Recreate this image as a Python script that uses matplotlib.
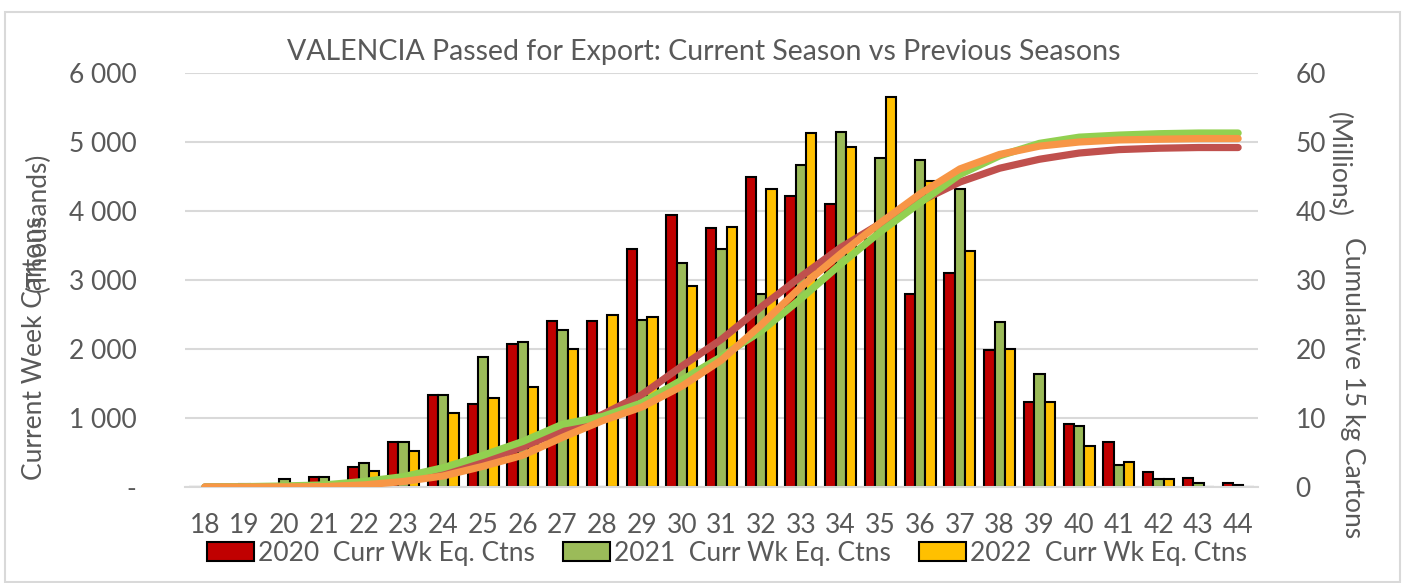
#Purpose: VALENCIA passed for export - weekly bars and cumulative lines

import numpy as np
from matplotlib import pyplot as plt
from matplotlib.patches import Rectangle

plt.rcParams['font.family'] = ['Lato', 'DejaVu Sans']

# data
weeks = list(range(18, 45))
week_labels = [str(w) for w in weeks]

# weekly cartons (thousands)
wk_2020 = [0, 10, 25, 150, 285, 657, 1333, 1203, 2072, 2406, 2401, 3444, 3942, 3749,
           4488, 4217, 4101, 3600, 2792, 3097, 1986, 1227, 918, 652, 217, 126, 53]
wk_2021 = [0, 50, 120, 150, 350, 652, 1338, 1884, 2101, 2280, 0, 2420, 3251, 3449,
           2792, 4667, 5140, 4773, 4739, 4314, 2396, 1638, 884, 319, 116, 58, 29]
wk_2022 = [0, 0, 20, 40, 236, 526, 1068, 1290, 1449, 2000, 2488, 2468, 2913, 3768,
           4324, 5125, 4923, 5652, 4435, 3420, 2000, 1227, 594, 362, 116, 0, 0]

# cumulative 15 kg cartons (millions)
cum_2020 = [0.0, 0.0, 0.05, 0.2, 0.5, 1.1, 2.5, 3.8, 5.8, 8.2, 10.5, 13.4, 17.5, 21.4,
            26.1, 30.5, 34.7, 38.2, 41.4, 44.2, 46.2, 47.5, 48.4, 48.9, 49.1, 49.2, 49.2]
cum_2021 = [0.0, 0.05, 0.15, 0.3, 0.8, 1.5, 2.8, 4.6, 6.6, 9.1, 10.2, 12.2, 15.5, 18.9,
            22.6, 27.3, 32.3, 37.0, 41.2, 45.3, 48.0, 49.8, 50.7, 51.0, 51.2, 51.3, 51.3]
cum_2022 = [0.0, 0.0, 0.02, 0.06, 0.3, 0.8, 1.6, 3.0, 4.6, 7.2, 9.6, 11.6, 14.6, 18.4,
            23.5, 29.0, 33.8, 38.3, 42.5, 46.1, 48.2, 49.4, 50.0, 50.3, 50.4, 50.5, 50.5]

left_ticks = [0, 1000, 2000, 3000, 4000, 5000, 6000]
left_tick_labels = ['-', '1 000', '2 000', '3 000', '4 000', '5 000', '6 000']
right_ticks = [0, 10, 20, 30, 40, 50, 60]

series_names = ['2020  Curr Wk Eq. Ctns', '2021  Curr Wk Eq. Ctns', '2022  Curr Wk Eq. Ctns']
bar_colors = ['#C00000', '#9BBB59', '#FFC000']
line_colors = ['#C0504D', '#92D050', '#F79646']

grey = '#595959'
W, H = 1407, 583

fig = plt.figure(figsize=(W / 100, H / 100), dpi=100)
ax = fig.add_axes([185 / W, 1 - 487 / H, (1258 - 185) / W, (487 - 73) / H])

x = np.array(weeks, dtype=float)
bw = 0.26
for i, (vals, col, name) in enumerate(zip([wk_2020, wk_2021, wk_2022], bar_colors, series_names)):
    ax.bar(x + (i - 1) * bw, vals, width=bw, color=col, edgecolor='black',
           linewidth=1.5, label=name, zorder=2)

ax.set_xlim(17.5, 44.5)
ax.set_ylim(0, 6000)
ax.set_yticks(left_ticks)
ax.set_yticklabels(left_tick_labels)
ax.set_xticks(weeks)
ax.set_xticklabels(week_labels)
ax.grid(axis='y', color='#d9d9d9', linewidth=1.5, zorder=0)
ax.set_axisbelow(True)
for s in ['top', 'right', 'left']:
    ax.spines[s].set_visible(False)
ax.spines['bottom'].set_color('#d9d9d9')
ax.spines['bottom'].set_linewidth(1.5)
ax.tick_params(axis='both', length=0, labelsize=19, colors=grey)
ax.tick_params(axis='y', pad=35)
ax.tick_params(axis='x', pad=19)

ax2 = ax.twinx()
for vals, col in zip([cum_2020, cum_2021, cum_2022], line_colors):
    ax2.plot(x, vals, color=col, linewidth=5.2, solid_capstyle='round', zorder=3)
ax2.set_ylim(0, 60)
ax2.set_yticks(right_ticks)
for s in ax2.spines.values():
    s.set_visible(False)
ax2.tick_params(axis='y', length=0, labelsize=19, colors=grey, pad=27)

# title and axis titles (the left ones overlap as in the original)
fig.text(0.5, 1 - 52 / H, 'VALENCIA Passed for Export: Current Season vs Previous Seasons',
         ha='center', va='center', fontsize=20.5, color=grey)
fig.text(35 / W, 1 - 480 / H, 'Current Week Cartons', rotation=90, ha='center',
         va='bottom', fontsize=19, color=grey)
fig.text(38 / W, 1 - 222 / H, '(Thousands)', rotation=90, ha='center',
         va='center', fontsize=19, color=grey)
fig.text(1338 / W, 1 - 165 / H, '(Millions)', rotation=-90, ha='center',
         va='center', fontsize=19, color=grey)
fig.text(1353 / W, 1 - 388 / H, 'Cumulative 15 kg Cartons', rotation=-90, ha='center',
         va='center', fontsize=19, color=grey)

leg = ax.legend(loc='center', bbox_to_anchor=(727 / W, 1 - 553 / H),
                bbox_transform=fig.transFigure, ncol=3, frameon=False,
                fontsize=19, handlelength=1.75, handleheight=0.75,
                handletextpad=0.15, columnspacing=1.1, borderaxespad=0)
for t in leg.get_texts():
    t.set_color(grey)

# chart area border
fig.patches.append(Rectangle((5 / W, 1 / H), 1395 / W, 570 / H,
                             transform=fig.transFigure, fill=False,
                             edgecolor='#d9d9d9', linewidth=1.5))

fig.savefig('out.png', dpi=100)
